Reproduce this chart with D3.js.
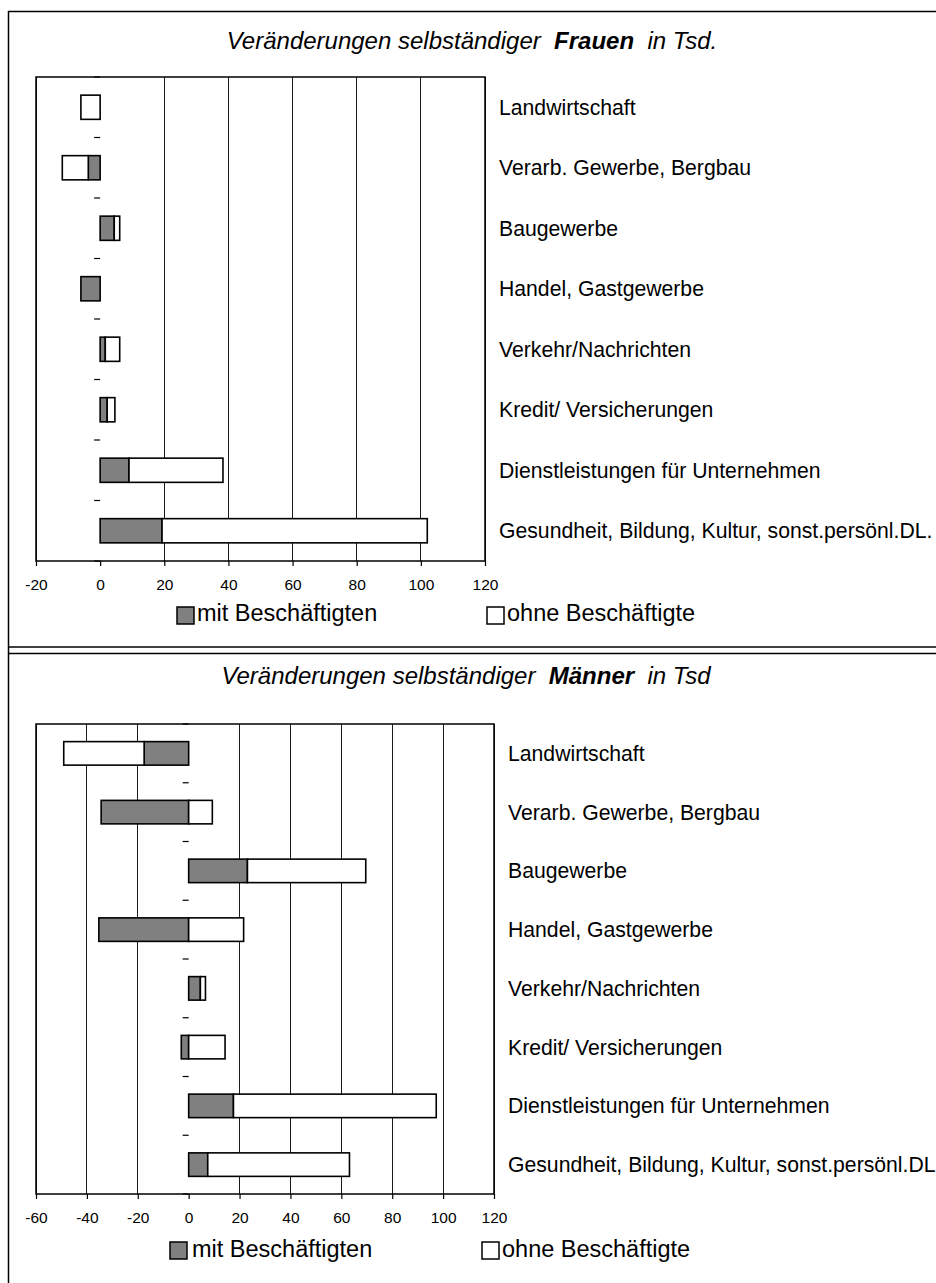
<!DOCTYPE html>
<html>
<head>
<meta charset="utf-8">
<script src="https://cdn.jsdelivr.net/npm/d3@7"></script>
<style>
  html, body { margin: 0; padding: 0; background: #fff; }
  svg { display: block; font-family: "Liberation Sans", Arial, sans-serif; }
  text { white-space: pre; }
</style>
</head>
<body>
<svg id="chart" width="936" height="1283"></svg>
<script>
// ---- data ----
const categories = [
  "Landwirtschaft",
  "Verarb. Gewerbe, Bergbau",
  "Baugewerbe",
  "Handel, Gastgewerbe",
  "Verkehr/Nachrichten",
  "Kredit/ Versicherungen",
  "Dienstleistungen für Unternehmen",
  "Gesundheit, Bildung, Kultur, sonst.persönl.DL."
];
const seriesNames = ["mit Beschäftigten", "ohne Beschäftigte"];
const frauenMit  = [0, -3.7, 4.4, -6.0, 1.6, 2.2, 9.0, 19.3];
const frauenOhne = [-6.0, -8.1, 1.7, 0, 4.5, 2.4, 29.3, 82.7];
const maennerMit  = [-17.5, -34.4, 23.1, -35.3, 4.6, -2.9, 17.6, 7.5];
const maennerOhne = [-31.6, 9.3, 46.5, 21.6, 2.0, 14.3, 79.7, 55.7];
const frauenTicks  = [-20, 0, 20, 40, 60, 80, 100, 120];
const maennerTicks = [-60, -40, -20, 0, 20, 40, 60, 80, 100, 120];

const svg = d3.select("#chart");
const fills = ["#808080", "#ffffff"];

// outer frame
svg.append("line").attr("x1", 8.5).attr("x2", 8.5).attr("y1", 11).attr("y2", 1283)
  .attr("stroke", "#000").attr("stroke-width", 1.5);
svg.append("line").attr("x1", 8).attr("x2", 936).attr("y1", 11.5).attr("y2", 11.5)
  .attr("stroke", "#000").attr("stroke-width", 1.5);
svg.append("line").attr("x1", 8).attr("x2", 936).attr("y1", 647).attr("y2", 647)
  .attr("stroke", "#000").attr("stroke-width", 1.5);
svg.append("line").attr("x1", 8).attr("x2", 936).attr("y1", 653.5).attr("y2", 653.5)
  .attr("stroke", "#000").attr("stroke-width", 1.5);

function panel(cfg) {
  const g = svg.append("g");
  const x = d3.scaleLinear().domain(cfg.domain).range([cfg.x0, cfg.x1]);
  const y = d3.scaleBand().domain(categories).range([cfg.y0, cfg.y1])
    .paddingInner(0.6).paddingOuter(0.3);

  // title
  const t = g.append("text").attr("x", cfg.titleX).attr("y", cfg.titleY)
    .attr("text-anchor", "middle").attr("font-size", 24).attr("font-style", "italic");
  t.append("tspan").text("Veränderungen selbständiger  ");
  t.append("tspan").attr("font-weight", "bold").text(cfg.titleBold);
  t.append("tspan").text(cfg.titleEnd);

  // gridlines
  g.append("g").selectAll("line").data(cfg.ticks).join("line")
    .attr("x1", d => x(d)).attr("x2", d => x(d))
    .attr("y1", cfg.y0).attr("y2", cfg.y1)
    .attr("stroke", "#1a1a1a").attr("stroke-width", 1)
    .attr("shape-rendering", "crispEdges")
    .attr("display", d => d === 0 ? "none" : null);

  // plot border
  g.append("rect").attr("x", cfg.x0).attr("y", cfg.y0)
    .attr("width", cfg.x1 - cfg.x0).attr("height", cfg.y1 - cfg.y0)
    .attr("fill", "none").attr("stroke", "#000").attr("stroke-width", 1.5);

  // x axis
  const xAxis = d3.axisBottom(x).tickValues(cfg.ticks).tickSize(5).tickPadding(8)
    .tickFormat(d => String(d));
  const ax = g.append("g").attr("transform", `translate(0,${cfg.y1})`).call(xAxis);
  ax.select(".domain").remove();
  ax.selectAll(".tick line").attr("stroke", "#000").attr("stroke-width", 1.2);
  ax.selectAll(".tick text").attr("font-size", 15.5).attr("fill", "#000")
    .attr("font-family", "Liberation Sans, Arial, sans-serif")
    .attr("dy", "1.0em");

  // category ticks (between categories, at x = 0)
  const bounds = d3.range(categories.length + 1).map(i => y.range()[0] + i * y.step());
  g.append("g").selectAll("line").data(bounds).join("line")
    .attr("x1", x(0) - 6).attr("x2", x(0))
    .attr("y1", d => d).attr("y2", d => d)
    .attr("stroke", "#000").attr("stroke-width", 1.2);

  // stacked bars
  const rows = categories.map((c, i) => ({cat: c, mit: cfg.mit[i], ohne: cfg.ohne[i]}));
  const stack = d3.stack().keys(["mit", "ohne"]).offset(d3.stackOffsetDiverging);
  const layers = stack(rows);
  layers.forEach((layer, li) => {
    g.append("g").selectAll("rect")
      .data(layer.filter(d => d[1] - d[0] !== 0))
      .join("rect")
      .attr("x", d => x(Math.min(d[0], d[1])))
      .attr("width", d => Math.abs(x(d[1]) - x(d[0])))
      .attr("y", d => y(d.data.cat))
      .attr("height", y.bandwidth())
      .attr("fill", fills[li])
      .attr("stroke", "#000").attr("stroke-width", 1.6);
  });

  // category labels
  g.append("g").selectAll("text").data(categories).join("text")
    .attr("x", cfg.labelX)
    .attr("y", d => y(d) + y.bandwidth() / 2 + 7.5)
    .attr("font-size", 21.2).attr("fill", "#000")
    .text(d => d);

  // legend
  const lg = g.append("g");
  cfg.legend.forEach((l, i) => {
    lg.append("rect").attr("x", l.bx).attr("y", cfg.legendBoxY)
      .attr("width", 17).attr("height", 17)
      .attr("fill", fills[i]).attr("stroke", "#000").attr("stroke-width", 1.5);
    lg.append("text").attr("x", l.tx).attr("y", cfg.legendBaseline)
      .attr("font-size", 23.5).attr("fill", "#000").text(seriesNames[i]);
  });
}

panel({
  domain: [-20, 120], ticks: frauenTicks,
  x0: 36, x1: 485, y0: 77, y1: 561,
  mit: frauenMit, ohne: frauenOhne,
  titleX: 472, titleY: 49, titleBold: "Frauen", titleEnd: "  in Tsd.",
  labelX: 499,
  legendBoxY: 607, legendBaseline: 621,
  legend: [{bx: 177, tx: 197}, {bx: 487, tx: 507}]
});

panel({
  domain: [-60, 120], ticks: maennerTicks,
  x0: 36, x1: 494, y0: 724, y1: 1194,
  mit: maennerMit, ohne: maennerOhne,
  titleX: 466, titleY: 684, titleBold: "Männer", titleEnd: "  in Tsd",
  labelX: 508,
  legendBoxY: 1242, legendBaseline: 1257,
  legend: [{bx: 170, tx: 192}, {bx: 482, tx: 502}]
});
</script>
</body>
</html>
